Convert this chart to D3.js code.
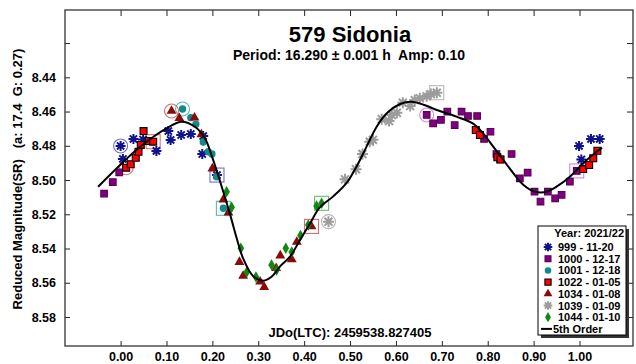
<!DOCTYPE html>
<html><head><meta charset="utf-8">
<script src="https://cdn.jsdelivr.net/npm/d3@7"></script>
<style>
body{margin:0;background:#fff}
svg{display:block}
text{font-family:"Liberation Sans",Arial,sans-serif;font-weight:bold;fill:#000}
</style>
</head><body>
<svg id="c" width="636" height="364"></svg>
<script>
// ---------- data ----------
const titleText = "579 Sidonia";
const subtitleText = "Period: 16.290 \u00b1 0.001 h  Amp: 0.10";
const yTitle = "Reduced Magnitude(SR)   (a: 17.4  G: 0.27)";
const jdText = "JDo(LTC): 2459538.827405";
const xTicks = [0.0,0.1,0.2,0.3,0.4,0.5,0.6,0.7,0.8,0.9,1.0];
const yTicks = [8.42,8.44,8.46,8.48,8.50,8.52,8.54,8.56,8.58];
const yLabelled = [8.44,8.46,8.48,8.50,8.52,8.54,8.56,8.58];
const legendTitle = "Year: 2021/22";
const seriesNames = ["999 - 11-20","1000 - 12-17","1001 - 12-18","1022 - 01-05","1034 - 01-08","1039 - 01-09","1044 - 01-10"];
const fitName = "5th Order";

const s999 = [[0.000,8.4801],[0.005,8.4877],[0.028,8.4760],[0.049,8.4763],[0.078,8.4830],[0.104,8.4714],
  [0.109,8.4766],[0.132,8.4737],[0.153,8.4731],[0.180,8.4743],[0.178,8.4848],[0.210,8.4971],
  [0.999,8.4801],[1.004,8.4880],[1.025,8.4760],[1.044,8.4760]];
const s1000 = [[0.667,8.4620],[0.681,8.4669],[0.698,8.4649],[0.712,8.4600],[0.728,8.4679],[0.743,8.4601],
  [0.757,8.4626],[0.777,8.4626],[0.792,8.4760],[0.806,8.4718],[0.819,8.4848],[0.827,8.4879],
  [0.852,8.4848],[0.870,8.4990],[0.887,8.4957],[0.902,8.5068],[0.915,8.5126],[0.931,8.5068],
  [0.947,8.5107],[0.961,8.5087],[0.979,8.5009],[0.994,8.4947],
  [-0.036,8.5080],[-0.017,8.5012],[-0.003,8.4955]];
const s1001 = [[0.135,8.4585],[0.153,8.4636],[0.164,8.4674],[0.180,8.4778],[0.191,8.4835],[0.199,8.4848],
  [0.209,8.4981],[0.224,8.5165]];
const s1022 = [[0.012,8.4928],[0.022,8.4908],[0.033,8.4870],[0.039,8.4835],[0.044,8.4795],[0.050,8.4714],
  [0.062,8.4772],[0.071,8.4776],[0.774,8.4708],[0.783,8.4737],[0.821,8.4867],[0.828,8.4880],
  [1.008,8.4936],[1.021,8.4912],[1.030,8.4873],[1.039,8.4829]];
const s1034 = [[0.111,8.4597],[0.128,8.4639],[0.161,8.4636],[0.176,8.4734],[0.200,8.4933],[0.224,8.5114],
  [0.235,8.5190],[0.259,8.5479],[0.267,8.5560],[0.304,8.5594],[0.313,8.5625],[0.339,8.5515],
  [0.348,8.5441],[0.373,8.5463],[0.384,8.5362],[0.416,8.5271]];
const s1039 = [[0.453,8.5243],[0.489,8.4996],[0.513,8.4937],[0.527,8.4848],[0.543,8.4776],[0.550,8.4765],
  [0.569,8.4645],[0.585,8.4655],[0.591,8.4620],[0.602,8.4607],[0.615,8.4548],[0.631,8.4568],
  [0.641,8.4533],[0.652,8.4523],[0.667,8.4511],[0.676,8.4498],[0.689,8.4490]];
const s1044 = [[0.231,8.5068],[0.242,8.5159],[0.262,8.5399],[0.275,8.5537],[0.295,8.5566],[0.329,8.5496],
  [0.340,8.5525],[0.360,8.5399],[0.373,8.5421],[0.392,8.5324],[0.409,8.5263],[0.427,8.5152],[0.438,8.5136]];
// index of the circled (first) and boxed (last) observation of each session
const circledIdx = [0,0,0,0,0,0,-1];
const boxedIdx = [11,21,7,7,15,16,12];

const fitCurve = [[-0.049,8.5039],[-0.001,8.4912],[0.042,8.4807],[0.100,8.4698],[0.133,8.4659],[0.162,8.4689],
  [0.184,8.4758],[0.199,8.4862],[0.217,8.5010],[0.239,8.5205],[0.253,8.5340],[0.267,8.5458],
  [0.289,8.5562],[0.311,8.5588],[0.329,8.5565],[0.347,8.5506],[0.369,8.5448],[0.391,8.5350],
  [0.413,8.5253],[0.434,8.5160],[0.464,8.5094],[0.493,8.5015],[0.514,8.4922],[0.536,8.4805],
  [0.558,8.4689],[0.580,8.4610],[0.609,8.4556],[0.634,8.4543],[0.660,8.4560],[0.689,8.4591],
  [0.732,8.4630],[0.769,8.4672],[0.790,8.4727],[0.812,8.4805],[0.834,8.4883],[0.856,8.4961],
  [0.878,8.5029],[0.903,8.5068],[0.929,8.5068],[0.950,8.5039],[0.979,8.4981],[1.008,8.4902],
  [1.037,8.4835],[1.049,8.4812]];

// ---------- layout ----------
const svg = d3.select("#c");
const F = {l:65, t:10, r:633, b:346};
const x = d3.scaleLinear().domain([0,1]).range([120.6,579.5]);
const y = d3.scaleLinear().domain([8.44,8.58]).range([77.3,317]);

const styles = [
  {type:"star", color:"#12128c", ring:"#7070c8", r:5},
  {type:"square", color:"#800080", stroke:"#5a005a", ring:"#c890c8", size:44},
  {type:"circle", color:"#118a8a", ring:"#60b4b4", size:42},
  {type:"square", color:"#ff0000", stroke:"#000", ring:"#e07070", size:48},
  {type:"triangle", color:"#8a0a0a", ring:"#d07070", size:42},
  {type:"star", color:"#9c9c9c", ring:"#b8b8b8", r:5.5},
  {type:"diamond", color:"#118811", ring:"#70b870", size:38}
];
const allSeries = [s999,s1000,s1001,s1022,s1034,s1039,s1044];

function drawMarker(g, st, cx, cy){
  if(st.type==="star"){
    const r = st.r, a = r*0.72;
    const p = `M${-r},0L${r},0M0,${-r}L0,${r}M${-a},${-a}L${a},${a}M${-a},${a}L${a},${-a}`;
    g.append("path").attr("d",p).attr("transform",`translate(${cx},${cy})`)
      .attr("stroke",st.color).attr("stroke-width",2).attr("fill","none");
    g.append("circle").attr("cx",cx).attr("cy",cy).attr("r",2).attr("fill",st.color);
  } else {
    const sym = {square:d3.symbolSquare, circle:d3.symbolCircle, triangle:d3.symbolTriangle, diamond:d3.symbolDiamond}[st.type];
    g.append("path").attr("d",d3.symbol(sym, st.size)())
      .attr("transform",`translate(${cx},${cy})`)
      .attr("fill",st.color)
      .attr("stroke",st.stroke||"none").attr("stroke-width",st.stroke?1.1:0);
  }
}

// clip
svg.append("defs").append("clipPath").attr("id","clip").append("rect")
  .attr("x",F.l).attr("y",F.t).attr("width",F.r-F.l).attr("height",F.b-F.t);

// axes
const fmt2 = d3.format(".2f");
const gx = svg.append("g").attr("transform",`translate(0,${F.b})`)
  .call(d3.axisBottom(x).tickValues(xTicks).tickSize(-5).tickPadding(6).tickFormat(fmt2));
const gxt = svg.append("g").attr("transform",`translate(0,${F.t})`)
  .call(d3.axisTop(x).tickValues(xTicks).tickSize(-6).tickFormat(""));
const gy = svg.append("g").attr("transform",`translate(${F.l},0)`)
  .call(d3.axisLeft(y).tickValues(yTicks).tickSize(-5).tickPadding(9)
    .tickFormat(d=> yLabelled.some(v=>Math.abs(v-d)<1e-9) ? fmt2(d) : ""));
const gyr = svg.append("g").attr("transform",`translate(${F.r},0)`)
  .call(d3.axisRight(y).tickValues(yTicks).tickSize(-6).tickFormat(""));
[gx,gxt,gy,gyr].forEach(g=>{
  g.select(".domain").remove();
  g.selectAll("line").attr("stroke","#222").attr("stroke-width",1);
  g.selectAll("text").style("font-size","12.5px").style("font-weight","bold").style("font-family",'"Liberation Sans",Arial,sans-serif').attr("fill","#000");
});

// frame
svg.append("rect").attr("x",F.l).attr("y",F.t).attr("width",F.r-F.l).attr("height",F.b-F.t)
  .attr("fill","none").attr("stroke","#333").attr("stroke-width",1.3);

// titles
svg.append("text").attr("x",350).attr("y",42).attr("text-anchor","middle").style("font-size","22px").text(titleText);
svg.append("text").attr("x",349).attr("y",60).attr("text-anchor","middle").style("font-size","14px")
  .attr("xml:space","preserve").text(subtitleText);
svg.append("text").attr("transform","translate(22,179) rotate(-90)").attr("text-anchor","middle")
  .style("font-size","13px").attr("xml:space","preserve").text(yTitle);
svg.append("text").attr("x",350).attr("y",337).attr("text-anchor","middle").style("font-size","13px").text(jdText);

// data
const plot = svg.append("g").attr("clip-path","url(#clip)");
// rings first
allSeries.forEach((data,i)=>{
  const st = styles[i];
  if(circledIdx[i]>=0){
    const d = data[circledIdx[i]];
    plot.append("circle").attr("cx",x(d[0])).attr("cy",y(d[1])).attr("r",7)
      .attr("fill","none").attr("stroke",st.ring).attr("stroke-width",1.1);
  }
  if(boxedIdx[i]>=0){
    const d = data[boxedIdx[i]];
    plot.append("rect").attr("x",x(d[0])-7).attr("y",y(d[1])-7).attr("width",14).attr("height",14)
      .attr("fill","none").attr("stroke",st.ring).attr("stroke-width",1.1);
  }
});
allSeries.forEach((data,i)=>{
  const g = plot.append("g");
  data.forEach(d=> drawMarker(g, styles[i], x(d[0]), y(d[1])));
});
// fit line
plot.append("path").datum(fitCurve)
  .attr("d", d3.line().x(d=>x(d[0])).y(d=>y(d[1])).curve(d3.curveCatmullRom.alpha(0.5)))
  .attr("fill","none").attr("stroke","#000").attr("stroke-width",2);

// legend
const L = {x:538, y:226, w:88, h:109};
svg.append("rect").attr("x",L.x+3).attr("y",L.y+3).attr("width",L.w).attr("height",L.h).attr("fill","#333");
svg.append("rect").attr("x",L.x).attr("y",L.y).attr("width",L.w).attr("height",L.h)
  .attr("fill","#fff").attr("stroke","#000").attr("stroke-width",1);
svg.append("text").attr("x",L.x+L.w-2).attr("y",L.y+11).attr("text-anchor","end").style("font-size","11px").text(legendTitle);
const rowY = i => L.y + 21 + i*11.7;
seriesNames.forEach((n,i)=>{
  const g = svg.append("g");
  const st = Object.assign({}, styles[i]);
  if(st.type==="star") st.r = 4.3;
  else st.size = st.size*0.8;
  drawMarker(g, st, L.x+10, rowY(i));
  svg.append("text").attr("x",L.x+20).attr("y",rowY(i)+4).style("font-size","11px").text(n);
});
svg.append("line").attr("x1",L.x+3).attr("x2",L.x+14).attr("y1",rowY(7)).attr("y2",rowY(7))
  .attr("stroke","#000").attr("stroke-width",2);
svg.append("text").attr("x",L.x+15).attr("y",rowY(7)+4).style("font-size","11px").text(fitName);
</script>
</body></html>
